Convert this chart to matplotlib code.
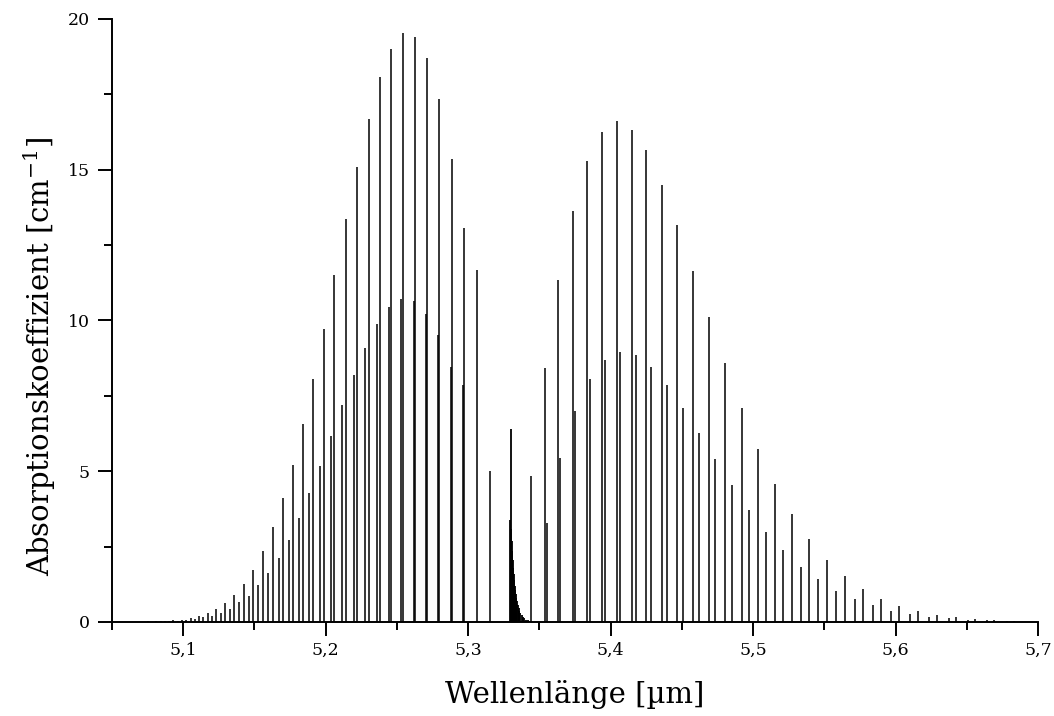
import matplotlib
matplotlib.use("Agg")
import matplotlib.pyplot as plt
from matplotlib.ticker import MultipleLocator, FuncFormatter

# Hauptserie (staerkere Linien), R- und P-Zweig: Wellenlaenge [um], Hoehe [1/cm]
lam_strong = [5.0752, 5.0811, 5.0870, 5.0928, 5.0988, 5.1051, 5.1112, 5.1173,
              5.1233, 5.1296, 5.1359, 5.1427, 5.1490, 5.1557, 5.1627, 5.1697,
              5.1769, 5.1841, 5.1914, 5.1986, 5.2061, 5.2140, 5.2217, 5.2301,
              5.2378, 5.2457, 5.2543, 5.2627, 5.2711, 5.2797, 5.2886, 5.2974,
              5.3065, 5.3156,
              5.3438, 5.3538, 5.3634, 5.3734, 5.3832, 5.3937, 5.4042, 5.4147,
              5.4250, 5.4359, 5.4466, 5.4578, 5.4690, 5.4802, 5.4921, 5.5035,
              5.5154, 5.5273, 5.5394, 5.5517, 5.5643, 5.5769, 5.5895, 5.6026,
              5.6156, 5.6289, 5.6422, 5.6557, 5.6692, 5.6832]
h_strong = [0.02, 0.02, 0.03, 0.05, 0.08, 0.13, 0.20, 0.29,
            0.44, 0.64, 0.90, 1.25, 1.74, 2.34, 3.14, 4.10,
            5.20, 6.56, 8.07, 9.72, 11.50, 13.35, 15.08, 16.67,
            18.09, 19.02, 19.52, 19.39, 18.70, 17.33, 15.35, 13.06,
            11.67, 5.00,
            4.85, 8.42, 11.35, 13.62, 15.29, 16.25, 16.62, 16.33,
            15.64, 14.50, 13.17, 11.63, 10.10, 8.58, 7.09, 5.75,
            4.58, 3.58, 2.75, 2.04, 1.52, 1.09, 0.77, 0.54,
            0.36, 0.24, 0.17, 0.10, 0.06, 0.04]

# schwaechere Serie
lam_weak = [5.0841, 5.0900, 5.0960, 5.1019, 5.1079, 5.1140, 5.1200, 5.1263,
            5.1326, 5.1392, 5.1459, 5.1527, 5.1594, 5.1669, 5.1739, 5.1811,
            5.1886, 5.1963, 5.2040, 5.2117, 5.2198, 5.2277, 5.2361, 5.2443,
            5.2529, 5.2618, 5.2702, 5.2790, 5.2876, 5.2965,
            5.3550, 5.3648, 5.3753, 5.3855, 5.3963, 5.4068, 5.4177, 5.4285,
            5.4396, 5.4508, 5.4620, 5.4736, 5.4855, 5.4972, 5.5091, 5.5212,
            5.5336, 5.5459, 5.5585, 5.5713, 5.5841, 5.5970, 5.6105, 5.6238,
            5.6373, 5.6510, 5.6645, 5.6780]
h_weak = [0.02, 0.03, 0.04, 0.07, 0.09, 0.15, 0.20, 0.30,
          0.44, 0.65, 0.87, 1.22, 1.61, 2.12, 2.73, 3.46,
          4.27, 5.19, 6.17, 7.20, 8.18, 9.10, 9.88, 10.44,
          10.70, 10.66, 10.21, 9.51, 8.46, 7.87,
          3.28, 5.43, 6.99, 8.05, 8.68, 8.96, 8.85, 8.46,
          7.87, 7.09, 6.26, 5.40, 4.55, 3.73, 2.99, 2.39,
          1.83, 1.43, 1.03, 0.75, 0.55, 0.38, 0.27, 0.17,
          0.13, 0.08, 0.05, 0.03]

# Q-Zweig
lam_q = [5.3297, 5.3301, 5.3304, 5.3307, 5.3310, 5.3313, 5.3316, 5.3319,
         5.3322, 5.3326, 5.3330, 5.3334, 5.3338, 5.3343, 5.3348, 5.3354,
         5.3360, 5.3367, 5.3375, 5.3384, 5.3394, 5.3405, 5.3418, 5.3430]
h_q = [3.38, 6.40, 3.10, 2.70, 2.35, 2.05, 1.80, 1.58,
       1.38, 1.20, 1.05, 0.92, 0.80, 0.68, 0.57, 0.47,
       0.38, 0.30, 0.23, 0.17, 0.12, 0.08, 0.05, 0.03]

plt.rcParams['font.family'] = ['DejaVu Serif']
plt.rcParams['mathtext.fontset'] = 'dejavuserif'

fig = plt.figure(figsize=(10.54, 7.16), dpi=100)
ax = fig.add_axes([0.1063, 0.1313, 0.8785, 0.8422])

ax.vlines(lam_strong, 0, h_strong, color='black', lw=1.1)
ax.vlines(lam_weak, 0, h_weak, color='black', lw=1.1)
ax.vlines(lam_q, 0, h_q, color='black', lw=1.3)

ax.set_xlim(5.05, 5.7)
ax.set_ylim(0, 20)

ax.xaxis.set_major_locator(MultipleLocator(0.1))
ax.xaxis.set_minor_locator(MultipleLocator(0.05))
ax.yaxis.set_major_locator(MultipleLocator(5))
ax.yaxis.set_minor_locator(MultipleLocator(2.5))
ax.xaxis.set_major_formatter(FuncFormatter(lambda v, p: f"{v:.1f}".replace('.', ',')))

ax.tick_params(which='major', direction='out', length=10, width=1.4, labelsize=12.5)
ax.tick_params(which='minor', direction='out', length=6, width=1.4)
ax.tick_params(axis='x', pad=4)
ax.tick_params(axis='y', pad=6)

ax.spines['top'].set_visible(False)
ax.spines['right'].set_visible(False)
ax.spines['left'].set_linewidth(1.4)
ax.spines['bottom'].set_linewidth(1.4)

ax.set_xlabel('Wellenlänge [µm]', fontsize=21, va='center')
ax.xaxis.set_label_coords(0.5, -0.121)
ax.set_ylabel('Absorptionskoeffizient [cm$^{-1}$]', fontsize=21, va='center')
ax.yaxis.set_label_coords(-0.078, 0.44)

fig.savefig('out.png', dpi=100)
